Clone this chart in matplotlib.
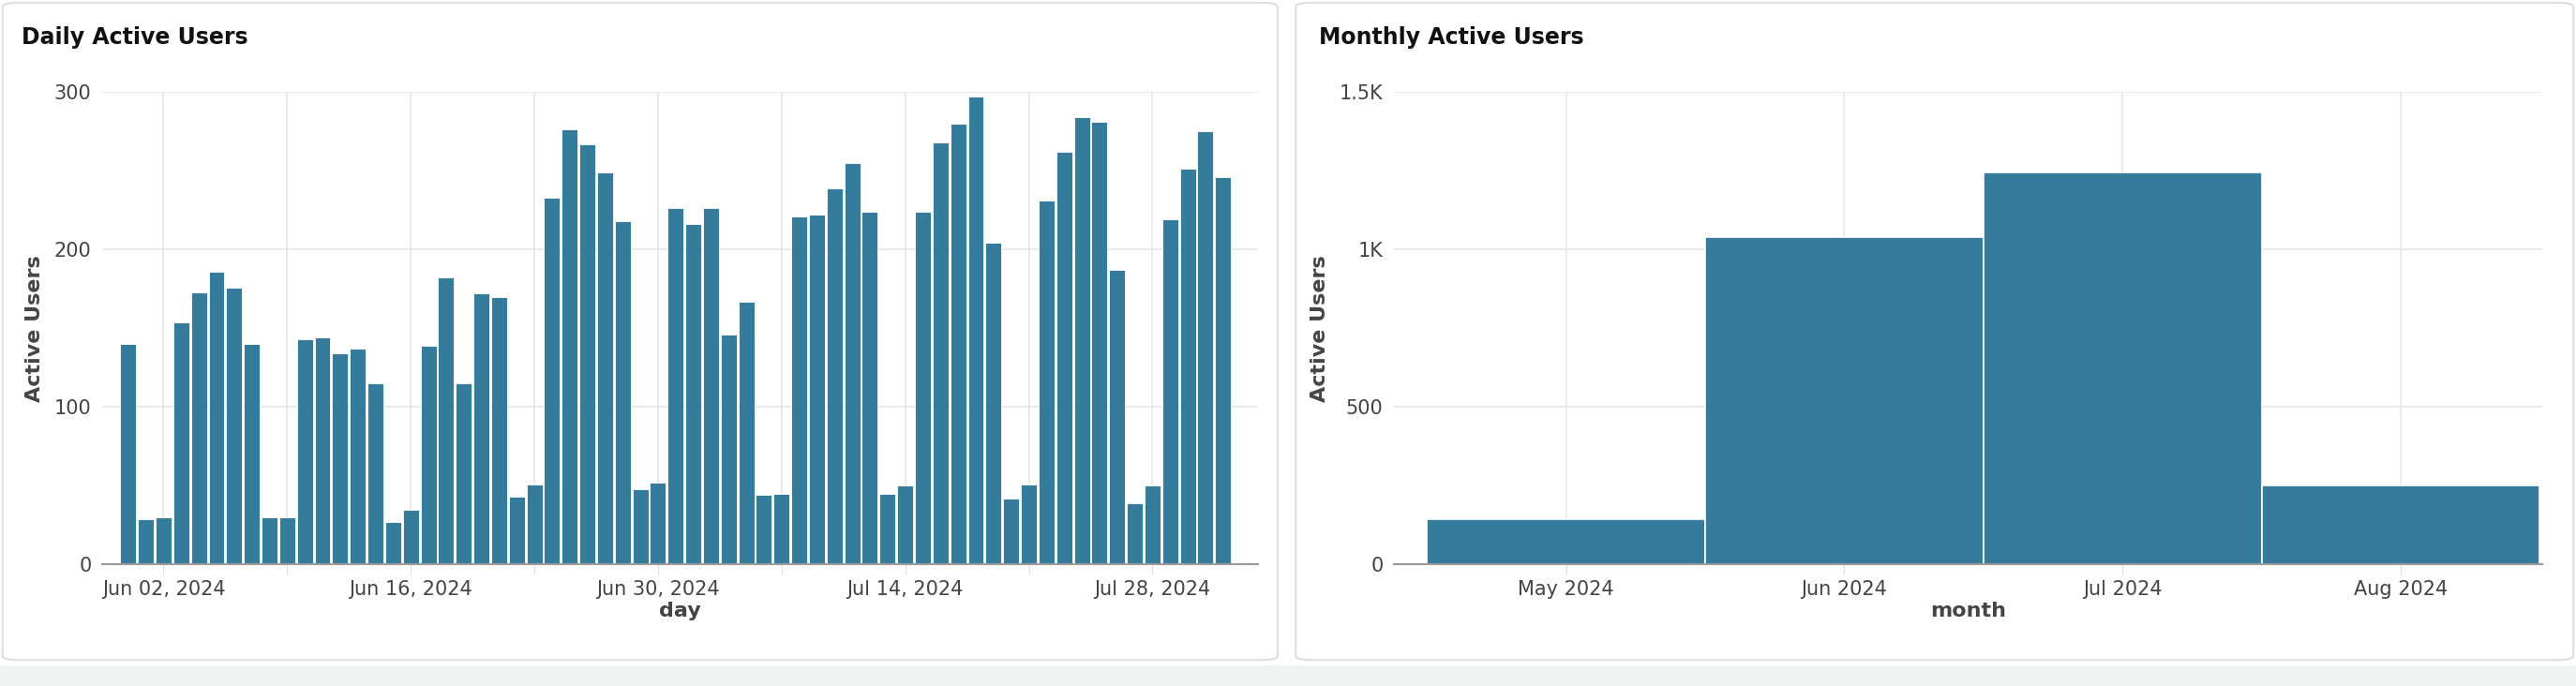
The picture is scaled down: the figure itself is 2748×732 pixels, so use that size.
import matplotlib
matplotlib.use("Agg")
import matplotlib.pyplot as plt
import matplotlib.dates as mdates
from matplotlib.patches import FancyBboxPatch
import numpy as np
import datetime as dt

start_day = "2024-05-31"
daily_users = [140, 29, 30, 154, 173, 186, 176, 140, 30, 30,
               143, 144, 134, 137, 115, 27, 35, 139, 182, 115,
               172, 170, 43, 51, 233, 276, 267, 249, 218, 48,
               52, 226, 216, 226, 146, 167, 44, 45, 221, 222,
               239, 255, 224, 45, 50, 224, 268, 280, 297, 204,
               42, 51, 231, 262, 284, 281, 187, 39, 50, 219,
               251, 275, 246, 1]
months = ["May 2024", "Jun 2024", "Jul 2024", "Aug 2024"]
monthly_users = [145, 1040, 1245, 250]

BAR = "#357b9c"
GRID = "#e6e6e6"
TXT = "#444444"

fig = plt.figure(figsize=(27.48, 7.32), dpi=100)
fig.patch.set_facecolor("white")
# card backgrounds
fig.patches.append(plt.Rectangle((0, 0), 1, 0.03, transform=fig.transFigure, facecolor="#f0f3f2", edgecolor="none", zorder=-3))
for x0, w in [(0.001, 0.495), (0.503, 0.496)]:
    fig.patches.append(FancyBboxPatch((x0, 0.038), w, 0.958, boxstyle="round,pad=0,rounding_size=0.006",
                                      transform=fig.transFigure, facecolor="white", edgecolor="#dddddd", lw=1.5, zorder=-2))

fig.text(0.0085, 0.945, "Daily Active Users", fontsize=17, fontweight="bold", color="#111111", va="center")
fig.text(0.512, 0.945, "Monthly Active Users", fontsize=17, fontweight="bold", color="#111111", va="center")

def style(ax):
    for s in ["top", "right", "left"]:
        ax.spines[s].set_visible(False)
    ax.spines["bottom"].set_color("#999999")
    ax.spines["bottom"].set_linewidth(1.5)
    ax.grid(True, color=GRID, lw=1.2)
    ax.set_axisbelow(True)
    ax.tick_params(axis="y", length=0, labelsize=15, labelcolor=TXT, pad=8)
    ax.tick_params(axis="x", length=8, color="#dddddd", labelsize=15, labelcolor=TXT, pad=4)

# Daily
ax1 = fig.add_axes([0.0395, 0.177, 0.449, 0.689])
d0 = np.datetime64(start_day)
days = d0 + np.arange(len(daily_users))
x = mdates.date2num(days.astype("datetime64[D]").astype(dt.datetime))
ax1.bar(x, daily_users, width=0.9, color=BAR, edgecolor="white", linewidth=0.6)
ax1.set_xlim(mdates.date2num(dt.datetime(2024, 5, 29, 12)), mdates.date2num(dt.datetime(2024, 8, 3)))
ax1.set_ylim(0, 300)
ax1.set_yticks([0, 100, 200, 300])
ax1.xaxis.set_major_locator(mdates.DayLocator(bymonthday=None, interval=1))
weekly = [mdates.date2num(dt.datetime(2024, 6, 2) + dt.timedelta(days=7 * i)) for i in range(9)]
ax1.set_xticks(weekly)
ax1.set_xticklabels([(dt.datetime(2024, 6, 2) + dt.timedelta(days=7 * i)).strftime("%b %d, %Y") if i % 2 == 0 else "" for i in range(9)])
style(ax1)
ax1.set_ylabel("Active Users", fontsize=16, fontweight="bold", color=TXT, labelpad=8)
ax1.set_xlabel("day", fontsize=16, fontweight="bold", color=TXT, labelpad=2)

# Monthly
ax2 = fig.add_axes([0.541, 0.177, 0.446, 0.689])
xm = np.arange(len(months))
ax2.bar(xm, monthly_users, width=1.0, color=BAR, edgecolor="white", linewidth=1.2)
ax2.set_xlim(-0.62, 3.51)
ax2.set_ylim(0, 1500)
ax2.set_yticks([0, 500, 1000, 1500])
ax2.set_yticklabels(["0", "500", "1K", "1.5K"])
ax2.set_xticks(xm)
ax2.set_xticklabels(months)
style(ax2)
ax2.set_ylabel("Active Users", fontsize=16, fontweight="bold", color=TXT, labelpad=8)
ax2.set_xlabel("month", fontsize=16, fontweight="bold", color=TXT, labelpad=2)

fig.savefig("out.png", dpi=100)
